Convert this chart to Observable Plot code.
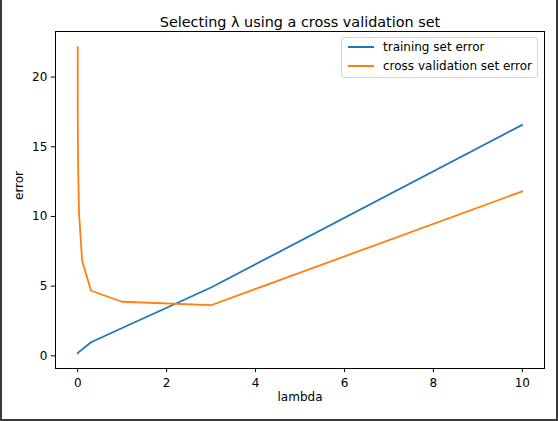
<!DOCTYPE html>
<html>
<head>
<meta charset="utf-8">
<script src="https://cdn.jsdelivr.net/npm/d3@7"></script>
<script src="https://cdn.jsdelivr.net/npm/@observablehq/plot@0.6"></script>
<style>
  body { margin: 0; background: white; font-family: "DejaVu Sans", sans-serif; }
  #wrap { position: relative; width: 558px; height: 421px; overflow: hidden; }
  #border { position: absolute; left: 0; top: 0; width: 558px; height: 421px; box-sizing: border-box;
            border-left: 2px solid #3a3a3a; border-right: 2px solid #3a3a3a; border-bottom: 2px solid #3a3a3a;
            pointer-events: none; }
  #legend { position: absolute; left: 341px; top: 37px; width: 197px; height: 41px; box-sizing: border-box;
            border: 1px solid #d5d5d5; border-radius: 3px; background: rgba(255,255,255,0.8);
            font-size: 12px; color: #000; }
  .row { position: absolute; left: 6px; height: 16px; display: flex; align-items: center; white-space: nowrap; }
  .sw { display: inline-block; width: 26px; height: 1.8px; margin-right: 9px; }
</style>
</head>
<body>
<div id="wrap">
  <div id="chart"></div>
  <div id="legend"></div>
  <div id="border"></div>
</div>
<script>
const lambdas = [0, 0.001, 0.003, 0.01, 0.03, 0.1, 0.3, 1, 3, 10]
const trainError = [0.19, 0.17, 0.19, 0.22, 0.28, 0.46, 0.97, 2.0, 4.9, 16.57]
const valError = [22.17, 17.5, 15.6, 13.4, 10.2, 6.8, 4.67, 3.88, 3.63, 11.8]
const seriesNames = ["training set error", "cross validation set error"]
const seriesColors = ["#1f77b4", "#ff7f0e"]
const xTicks = [0, 2, 4, 6, 8, 10]
const yTicks = [0, 5, 10, 15, 20]

const data = [
  ...lambdas.map((l, i) => ({lambda: l, error: trainError[i], series: seriesNames[0]})),
  ...lambdas.map((l, i) => ({lambda: l, error: valError[i], series: seriesNames[1]}))
]

const chart = Plot.plot({
  width: 558,
  height: 421,
  marginLeft: 55,
  marginRight: 14,
  marginTop: 31,
  marginBottom: 53,
  style: {fontFamily: "DejaVu Sans", fontSize: "12px", color: "black", background: "white"},
  x: {domain: [-0.5, 10.5]},
  y: {domain: [-0.91, 23.27]},
  color: {domain: seriesNames, range: seriesColors},
  marks: [
    Plot.line(data, {x: "lambda", y: "error", stroke: "series", strokeWidth: 1.8, z: "series"}),
    Plot.frame({stroke: "black", strokeWidth: 1}),
    Plot.axisX({ticks: xTicks, tickSize: 4.2, tickPadding: 6, fontSize: 12, label: null, tickFormat: d => d}),
    Plot.axisY({ticks: yTicks, tickSize: 4.2, tickPadding: 4, fontSize: 12, label: null, tickFormat: d => d}),
    Plot.text(["lambda"], {frameAnchor: "bottom", dy: 32, fontSize: 12, fill: "black"}),
    Plot.text(["error"], {frameAnchor: "left", dx: -36, rotate: -90, fontSize: 12, fill: "black"}),
    Plot.text(["Selecting λ using a cross validation set"], {frameAnchor: "top", dy: -14.5, fontSize: 14.4, fill: "black"})
  ]
})
d3.select("#chart").append(() => chart)

// legend, matplotlib style box in the upper right
const legend = d3.select("#legend")
seriesNames.forEach((name, i) => {
  const row = legend.append("div").attr("class", "row").style("top", (1 + i * 19) + "px")
  row.append("span").attr("class", "sw").style("background", seriesColors[i])
  row.append("span").text(name)
})
</script>
</body>
</html>
